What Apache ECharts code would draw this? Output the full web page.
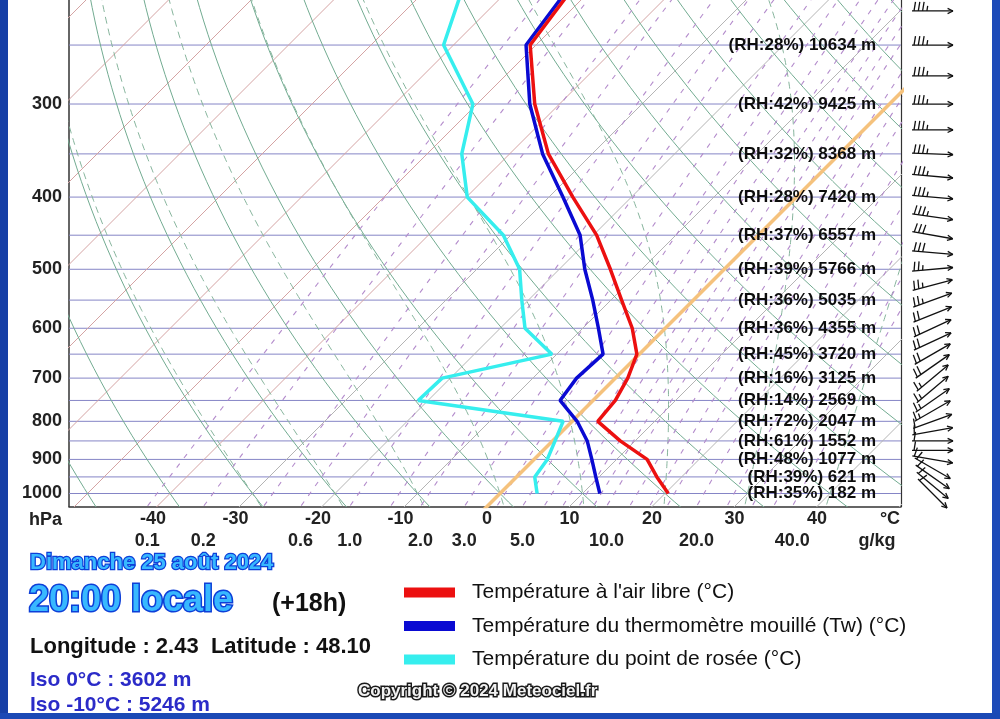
<!DOCTYPE html>
<html><head><meta charset="utf-8"><title>Skew-T</title>
<script src="https://cdn.jsdelivr.net/npm/echarts@6.0.0/dist/echarts.min.js"></script>
<style>html,body{margin:0;padding:0;background:#fff;overflow:hidden}#chart{width:1000px;height:719px}</style>
</head><body><div id="chart"></div><script>
// ---------------- data ----------------
const pressureLevels = [1000, 950, 900, 850, 800, 750, 700, 650, 600, 550, 500, 450, 400, 350, 300, 250, 200];
const airTemp      = [20.4, 17.0, 13.7, 8.2, 3.1, 2.7, 1.5, -0.3, -4.0, -8.7, -13.8, -19.6, -27.1, -35.3, -43.0, -50.7, -52.9];
const wetBulbTemp  = [12.1, 9.6, 7.0, 4.2, 0.6, -4.0, -4.7, -4.4, -8.1, -12.2, -16.9, -21.6, -28.3, -36.0, -43.6, -51.2, -53.4];
const dewPointTemp = [4.5, 2.2, 1.6, 0.3, -1.1, -21.2, -21.0, -10.6, -17.0, -20.8, -24.8, -30.9, -39.9, -45.8, -50.5, -61.2, -67.0];
const labelLevels  = [1000, 950, 900, 850, 800, 750, 700, 650, 600, 550, 500, 450, 400, 350, 300, 250];
const relHumidity  = [35, 39, 48, 61, 72, 14, 16, 45, 36, 36, 39, 37, 28, 32, 42, 28];
const geoHeight    = [182, 621, 1077, 1552, 2047, 2569, 3125, 3720, 4355, 5035, 5766, 6557, 7420, 8368, 9425, 10634];
const pressureTicks = [1000, 900, 800, 700, 600, 500, 400, 300];
const tempTicks     = [-40, -30, -20, -10, 0, 10, 20, 30, 40];
const mixRatioTicks = [0.1, 0.2, 0.6, 1.0, 2.0, 3.0, 5.0, 10.0, 20.0, 40.0];
const mixRatioLines = [0.1, 0.2, 0.4, 0.6, 1, 1.5, 2, 3, 4, 5, 6, 7, 8, 9, 10, 12, 14, 16, 20, 25, 30, 35, 40];
const isobarLevels  = [250, 300, 350, 400, 450, 500, 550, 600, 650, 700, 750, 800, 850, 900, 950, 1000];
const windLevels = [225, 250, 275, 300, 325, 350, 375, 400, 425, 450, 475, 500, 525, 550, 575, 600, 625, 650, 675, 700, 725, 750, 775, 800, 825, 850, 875, 900, 925, 950, 975, 1000];
const windDir    = [270, 270, 270, 270, 270, 272, 275, 275, 278, 280, 275, 265, 255, 250, 248, 245, 245, 240, 235, 230, 230, 235, 240, 250, 260, 270, 270, 280, 300, 305, 310, 315];
const windSpeed  = [35, 35, 35, 35, 35, 35, 35, 35, 35, 30, 30, 25, 25, 25, 20, 20, 20, 20, 20, 15, 15, 15, 15, 10, 10, 10, 10, 10, 10, 10, 10, 10];

// ---------------- skew-T geometry ----------------
const P_BOT = 1041, P_TOP = 217.5;
const SKEW = 323.5 / 8.25;               // degC of skew per unit ln(p)
const XMIN = (69 - 487) / 8.25, XMAX = (901 - 487) / 8.25;
const Y = p => Math.log(1000 / p);
const XS = (T, p) => T + SKEW * Math.log(P_BOT / p);
const YMIN = Y(P_BOT), YMAX = Y(P_TOP);
const DEGC_X = (890 - 487) / 8.25, GKG_X = (877 - 487) / 8.25, LABEL_X = (877 - 487) / 8.25;

const RD = 287.04, CP = 1005.7, LV = 2.501e6, EPS = 0.622;
const es = T => 6.112 * Math.exp(17.67 * T / (T + 243.5));
function tdFromW(w, p) { const e = w * p / (622 + w); const l = Math.log(e / 6.112); return 243.5 * l / (17.67 - l); }
function moistDTdp(T, p) { const Tk = T + 273.15, e = es(T), rs = EPS * e / (p - e); return (RD * Tk + LV * rs) / (CP + LV * LV * rs * EPS / (RD * Tk * Tk)) / p; }
function integ(T, p, pEnd, dp) {
  const out = [[p, T]];
  while (dp < 0 ? p > pEnd : p < pEnd) {
    const k1 = moistDTdp(T, p), k2 = moistDTdp(T + k1 * dp / 2, p + dp / 2), k3 = moistDTdp(T + k2 * dp / 2, p + dp / 2), k4 = moistDTdp(T + k3 * dp, p + dp);
    T += dp * (k1 + 2 * k2 + 2 * k3 + k4) / 6; p += dp; out.push([p, T]);
  }
  return out;
}
const PLO = 1070, PHI = 205;
function pSpace(n) { const a = []; for (let i = 0; i <= n; i++) a.push(PLO * Math.pow(PHI / PLO, i / n)); return a; }

const series = [];
function addLine(pts, color, width, type, z) {
  series.push({ type: 'line', xAxisIndex: 0, yAxisIndex: 0, data: pts, symbol: 'none', silent: true, animation: false, z: z,
    lineStyle: { color: color, width: width, type: type }, emphasis: { disabled: true } });
}
// isobars
isobarLevels.forEach(p => addLine([[XMIN, Y(p)], [XMAX, Y(p)]], '#8585c6', 1, 'solid', 1));
// isotherms
for (let T = -130; T <= 50; T += 10) {
  if (T === 0) continue;
  addLine([[XS(T, PLO), Y(PLO)], [XS(T, PHI), Y(PHI)]], T <= -40 ? '#d4a3a3' : '#b4b4b4', 1, 'solid', 1);
}
// dry adiabats
for (let th = -60; th <= 150; th += 10) {
  addLine(pSpace(40).map(p => { const T = (th + 273.15) * Math.pow(p / 1000, 0.2857) - 273.15; return [XS(T, p), Y(p)]; }), '#72ab91', 1, 'solid', 2);
}
// moist adiabats
for (let tw = -30; tw <= 40; tw += 10) {
  const up = integ(tw, 1000, PHI, -4), down = integ(tw, 1000, PLO, 4).reverse();
  addLine(down.concat(up.slice(1)).map(d => [XS(d[1], d[0]), Y(d[0])]), '#86b49c', 1, [7, 5], 2);
}
// mixing ratio lines
mixRatioLines.forEach(w => addLine(pSpace(30).map(p => [XS(tdFromW(w, p), p), Y(p)]), '#b48ccc', 1.1, [5, 7], 2));
// 0 degC isotherm
addLine([[XS(0, PLO), Y(PLO)], [XS(0, PHI), Y(PHI)]], '#f5c27d', 3.5, 'solid', 3);

// profiles
const NAME_T = "Température à l'air libre (°C)", NAME_TW = 'Température du thermomètre mouillé (Tw) (°C)', NAME_TD = 'Température du point de rosée (°C)';
function profile(name, vals, color, z) {
  series.push({ name: name, type: 'line', xAxisIndex: 0, yAxisIndex: 0, data: pressureLevels.map((p, i) => [XS(vals[i], p), Y(p)]),
    symbol: 'none', silent: true, animation: false, z: z, color: color, lineStyle: { color: color, width: 3.5 } });
}
profile(NAME_TD, dewPointTemp, '#36eeee', 5);
profile(NAME_TW, wetBulbTemp, '#0a0ad2', 6);
profile(NAME_T, airTemp, '#ec1010', 7);

// RH / height labels
series.push({ type: 'scatter', xAxisIndex: 0, yAxisIndex: 0, silent: true, animation: false, z: 8, symbol: 'circle', symbolSize: 2,
  itemStyle: { color: 'rgba(0,0,0,0)' },
  labelLayout: { hideOverlap: false },
  data: labelLevels.map((p, i) => [LABEL_X, Y(p), '(RH:' + relHumidity[i] + '%) ' + geoHeight[i] + ' m']),
  label: { show: true, position: 'left', distance: 0, offset: [0, 1], opacity: 1, formatter: pr => pr.value[2], color: '#0d0d0d', fontSize: 17, fontWeight: 'bold', fontFamily: 'Liberation Sans' } });

// wind arrows
series.push({ type: 'custom', xAxisIndex: 2, yAxisIndex: 2, silent: true, animation: false, z: 8, clip: false,
  data: windLevels.map((p, i) => [0.5, Y(p), windDir[i], windSpeed[i]]),
  renderItem: function (params, api) {
    const c = api.coord([api.value(0), api.value(1)]);
    const L = api.size([1, 0])[0];
    const ang = (api.value(2) + 180) * Math.PI / 180;
    const ux = Math.sin(ang), uy = -Math.cos(ang);
    const px = uy, py = -ux;
    const tail = [c[0] - ux * L / 2, c[1] - uy * L / 2], tip = [c[0] + ux * L / 2, c[1] + uy * L / 2];
    const st = { stroke: '#111', lineWidth: 1.3 };
    const ln = (a, b) => ({ type: 'line', shape: { x1: a[0], y1: a[1], x2: b[0], y2: b[1] }, style: st });
    const ch = [ln(tail, tip)];
    const ha = 0.45, hl = 6;
    [ha, -ha].forEach(s => {
      const bx = -ux * Math.cos(s) + uy * Math.sin(s), by = -uy * Math.cos(s) - ux * Math.sin(s);
      ch.push(ln(tip, [tip[0] + bx * hl, tip[1] + by * hl]));
    });
    let spd = api.value(3), k = 0;
    while (spd >= 10) { const b = [tail[0] + ux * (2 + 4.3 * k), tail[1] + uy * (2 + 4.3 * k)]; ch.push(ln(b, [b[0] + px * 9 + ux * 1.5, b[1] + py * 9 + uy * 1.5])); spd -= 10; k++; }
    if (spd >= 5) { const b = [tail[0] + ux * (2 + 4.3 * k), tail[1] + uy * (2 + 4.3 * k)]; ch.push(ln(b, [b[0] + px * 5 + ux * 0.8, b[1] + py * 5 + uy * 0.8])); }
    return { type: 'group', children: ch };
  } });

const mixPos = mixRatioTicks.map(w => tdFromW(w, P_BOT));
const FONT = 'Liberation Sans';
const option = {
  animation: false,
  textStyle: { fontFamily: FONT },
  grid: [
    { left: 69, right: 99, top: 0, bottom: 212.5, containLabel: false },
    { left: 912, width: 41, top: 0, bottom: 212.5, containLabel: false }
  ],
  xAxis: [
    { gridIndex: 0, type: 'value', min: XMIN, max: XMAX, position: 'bottom',
      axisLine: { show: true, onZero: false, lineStyle: { color: '#333', width: 1.5 } }, axisTick: { show: false }, splitLine: { show: false },
      axisLabel: { customValues: tempTicks.concat([DEGC_X]), margin: 4, color: '#222', fontSize: 18, fontWeight: 'bold', fontFamily: FONT,
        formatter: v => Math.abs(v - DEGC_X) < 1e-6 ? '°C' : (v < 0 ? '{neg|' + v + '}' : String(v)),
        rich: { neg: { padding: [0, 8, 0, 0], fontSize: 18, fontWeight: 'bold', color: '#222', fontFamily: FONT } } } },
    { gridIndex: 0, type: 'value', min: XMIN, max: XMAX, position: 'bottom', offset: 22,
      axisLine: { show: false }, axisTick: { show: false }, splitLine: { show: false },
      axisLabel: { customValues: mixPos.concat([GKG_X]), margin: 4, color: '#222', fontSize: 18, fontWeight: 'bold', fontFamily: FONT,
        formatter: v => { if (Math.abs(v - GKG_X) < 1e-6) return 'g/kg'; const i = mixPos.findIndex(m => Math.abs(m - v) < 1e-6); return i >= 0 ? mixRatioTicks[i].toFixed(1) : ''; } } },
    { gridIndex: 1, type: 'value', min: 0, max: 1, show: false }
  ],
  yAxis: [
    { gridIndex: 0, type: 'value', min: YMIN, max: YMAX, position: 'left',
      axisLine: { show: true, onZero: false, lineStyle: { color: '#333', width: 1.5 } }, axisTick: { show: false }, splitLine: { show: false },
      axisLabel: { customValues: pressureTicks.map(Y), formatter: v => String(Math.round(1000 / Math.exp(v))), margin: 7, color: '#222', fontSize: 18, fontWeight: 'bold', fontFamily: FONT } },
    { gridIndex: 0, type: 'value', min: YMIN, max: YMAX, position: 'right',
      axisLine: { show: true, onZero: false, lineStyle: { color: '#333', width: 1.2 } }, axisTick: { show: false }, axisLabel: { show: false }, splitLine: { show: false } },
    { gridIndex: 1, type: 'value', min: YMIN, max: YMAX, show: false }
  ],
  legend: { data: [NAME_T, NAME_TW, NAME_TD], orient: 'vertical', left: 404, top: 582, padding: 0, itemWidth: 51, itemHeight: 10, itemGap: 12.5, icon: 'rect',
    selectedMode: false, textStyle: { fontSize: 21, color: '#111', fontFamily: FONT, padding: [0, 0, 0, 12] } },
  series: series,
  graphic: [
    { type: 'rect', silent: true, shape: { x: 0, y: 0, width: 8, height: 719 }, style: { fill: '#163fa6' } },
    { type: 'rect', silent: true, shape: { x: 992, y: 0, width: 8, height: 719 }, style: { fill: '#1c4ab8' } },
    { type: 'rect', silent: true, shape: { x: 0, y: 713, width: 1000, height: 6 }, style: { fill: '#1b49b5' } },
    { type: 'text', silent: true, x: 62, y: 520, style: { text: 'hPa', align: 'right', verticalAlign: 'middle', font: 'bold 18px "Liberation Sans"', fill: '#222' } },
    { type: 'text', silent: true, x: 30, y: 563, style: { text: 'Dimanche 25 août 2024', verticalAlign: 'middle', font: 'bold 22px "Liberation Sans"', fill: '#38b8ff', stroke: '#0d3fd8', lineWidth: 2.5, strokeFirst: true } },
    { type: 'text', silent: true, x: 29, y: 601, style: { text: '20:00 locale', verticalAlign: 'middle', font: 'bold 36px "Liberation Sans"', fill: '#38b8ff', stroke: '#0d3fd8', lineWidth: 3, strokeFirst: true } },
    { type: 'text', silent: true, x: 272, y: 604, style: { text: '(+18h)', verticalAlign: 'middle', font: 'bold 25px "Liberation Sans"', fill: '#111' } },
    { type: 'text', silent: true, x: 30, y: 647, style: { text: 'Longitude : 2.43  Latitude : 48.10', verticalAlign: 'middle', font: 'bold 22px "Liberation Sans"', fill: '#111' } },
    { type: 'text', silent: true, x: 30, y: 680, style: { text: 'Iso 0°C : 3602 m', verticalAlign: 'middle', font: 'bold 21px "Liberation Sans"', fill: '#2b2bc8' } },
    { type: 'text', silent: true, x: 30, y: 705, style: { text: 'Iso -10°C : 5246 m', verticalAlign: 'middle', font: 'bold 21px "Liberation Sans"', fill: '#2b2bc8' } },
    { type: 'text', silent: true, x: 358, y: 691, style: { text: 'Copyright © 2024 Meteociel.fr', verticalAlign: 'middle', font: 'bold 17px "Liberation Sans"', fill: '#f2f2f2', stroke: '#1a1a1a', lineWidth: 3, strokeFirst: true } }
  ]
};
const chart = echarts.init(document.getElementById('chart'), null, { renderer: 'canvas' });
chart.setOption(option);
</script></body></html>
